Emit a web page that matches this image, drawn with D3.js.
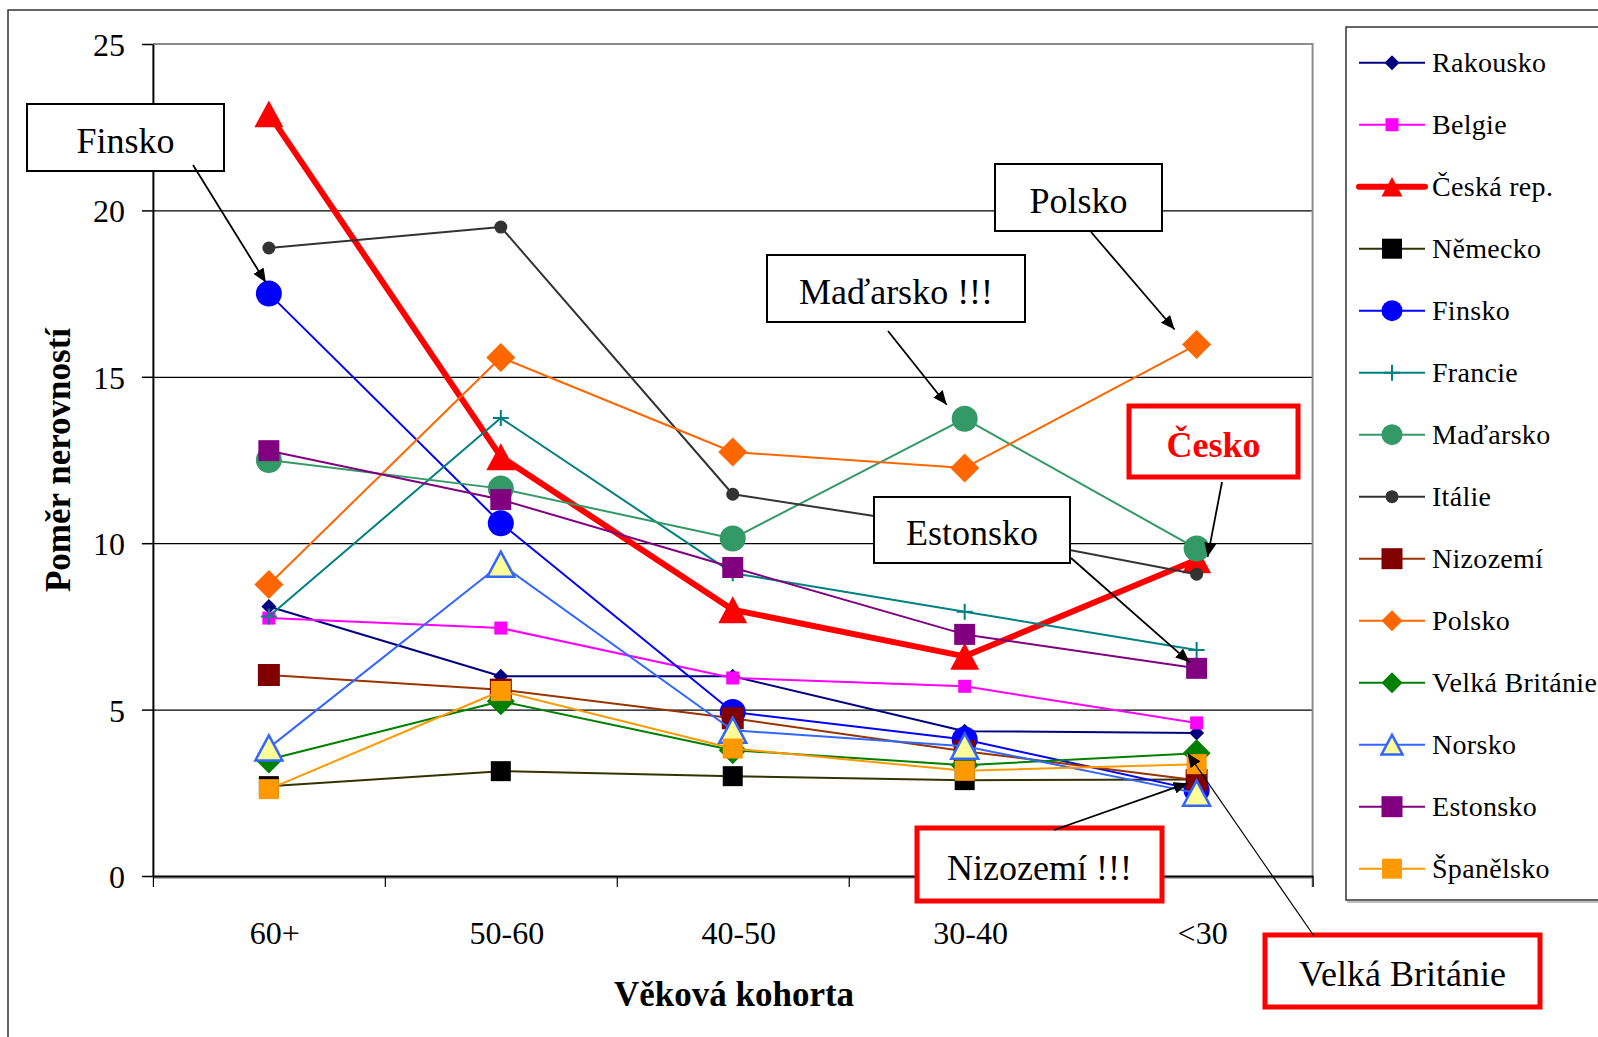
<!DOCTYPE html>
<html><head><meta charset="utf-8">
<script src="https://cdn.jsdelivr.net/npm/d3@7"></script>
<style>
html,body{margin:0;padding:0;background:#fff;}
svg{display:block;}
text{font-family:"Liberation Serif","Times New Roman",serif;}
</style></head>
<body>
<svg id="chart" width="1598" height="1037"></svg>
<script>
// ---------- DATA ----------
const categories = ["60+", "50-60", "40-50", "30-40", "<30"];
const yTicks = [0, 5, 10, 15, 20, 25];
const seriesNames = ["Rakousko","Belgie","Česká rep.","Německo","Finsko","Francie","Maďarsko","Itálie","Nizozemí","Polsko","Velká Británie","Norsko","Estonsko","Španělsko"];
const rakousko      = [8.1, 6.0, 6.0, 4.35, 4.3];
const belgie        = [7.75, 7.45, 5.95, 5.7, 4.6];
const ceskaRep      = [22.9, 12.6, 8.0, 6.6, 9.5];
const nemecko       = [2.7, 3.15, 3.0, 2.88, 2.9];
const finsko        = [17.5, 10.6, 4.93, 4.1, 2.58];
const francie       = [7.8, 13.76, 9.1, 7.94, 6.79];
const madarsko      = [12.5, 11.64, 10.14, 13.74, 9.84];
const italie        = [18.87, 19.5, 11.47, 10.4, 9.07];
const nizozemi      = [6.04, 5.6, 4.74, 3.75, 2.88];
const polsko        = [8.76, 15.58, 12.74, 12.26, 15.97];
const velkaBritanie = [3.5, 5.25, 3.78, 3.33, 3.69];
const norsko        = [3.85, 9.37, 4.38, 3.9, 2.49];
const estonsko      = [12.78, 11.31, 9.27, 7.26, 6.24];
const spanelsko     = [2.61, 5.56, 3.83, 3.16, 3.36];
const seriesValues = [rakousko, belgie, ceskaRep, nemecko, finsko, francie, madarsko, italie, nizozemi, polsko, velkaBritanie, norsko, estonsko, spanelsko];
const xTitle = "Věková kohorta";
const yTitle = "Poměr nerovností";
const annotationTexts = ["Finsko", "Polsko", "Maďarsko !!!", "Česko", "Estonsko", "Nizozemí !!!", "Velká Británie"];

// ---------- STYLES ----------
const styles = [
  {line:"#000080", lw:2, shape:"diamond", size:15, fill:"#000080", stroke:"#000080"},
  {line:"#FF00FF", lw:2, shape:"square", size:13, fill:"#FF00FF", stroke:"#FF00FF"},
  {line:"#FF0000", lw:6, shape:"triangle", size:29, fill:"#FF0000", stroke:"#FF0000"},
  {line:"#333300", lw:2, shape:"square", size:20, fill:"#000000", stroke:"#000000"},
  {line:"#0000FF", lw:2, shape:"circle", size:26, fill:"#0000FF", stroke:"#0000FF"},
  {line:"#008080", lw:2, shape:"plus", size:16, fill:"none", stroke:"#008080"},
  {line:"#339966", lw:2, shape:"circle", size:26, fill:"#339966", stroke:"#339966"},
  {line:"#333333", lw:2, shape:"circle", size:13, fill:"#333333", stroke:"#333333"},
  {line:"#993300", lw:2, shape:"square", size:22, fill:"#800000", stroke:"#800000"},
  {line:"#FF6600", lw:2, shape:"diamond", size:29, fill:"#FF6600", stroke:"#FF6600"},
  {line:"#008000", lw:2, shape:"diamond", size:28, fill:"#008000", stroke:"#008000"},
  {line:"#3366FF", lw:2, shape:"triangle", size:27, fill:"#FFFF99", stroke:"#3366FF", sw:2.5},
  {line:"#800080", lw:2, shape:"square", size:21, fill:"#800080", stroke:"#800080"},
  {line:"#FF9900", lw:2, shape:"square", size:20, fill:"#FF9900", stroke:"#FF9900"}
];

const svg = d3.select("#chart");
const plotL = 152.9, plotR = 1312.6, plotT = 44, plotB = 876;

const x = d3.scaleBand().domain(categories).range([plotL, plotR]);
const xc = c => x(c) + x.bandwidth() / 2;
const y = d3.scaleLinear().domain([0, 25]).range([plotB, plotT]);

// outer chart border
svg.append("path").attr("d", "M8,1040 V10 H1600").attr("fill", "none").attr("stroke", "#333").attr("stroke-width", 1.5);

// gridlines
svg.append("g").attr("transform", `translate(${plotL},0)`)
  .call(d3.axisLeft(y).tickValues([5, 10, 15, 20]).tickSize(-(plotR - plotL)).tickFormat(""))
  .call(g => g.select(".domain").remove())
  .call(g => g.selectAll("line").attr("stroke", "#000").attr("stroke-width", 1.2));

// plot border (top and right, gray)
svg.append("path").attr("d", `M${plotL},${plotT} H${plotR} V${plotB + 11}`)
  .attr("fill", "none").attr("stroke", "#8c8c8c").attr("stroke-width", 2);

// y axis
svg.append("g").attr("transform", `translate(${plotL},0)`)
  .call(d3.axisLeft(y).tickValues(yTicks).tickSize(11).tickSizeOuter(0).tickPadding(17))
  .call(g => g.select(".domain").attr("stroke", "#000").attr("stroke-width", 2))
  .call(g => g.selectAll("line").attr("stroke", "#000").attr("stroke-width", 1.5))
  .call(g => g.selectAll("text").attr("font-size", 32).attr("font-family", "Liberation Serif").attr("fill", "#000").attr("dy", "0.36em"));

// x axis: gray shadow, boundary ticks, labels
svg.append("line").attr("x1", plotL).attr("x2", plotR).attr("y1", plotB + 2).attr("y2", plotB + 2).attr("stroke", "#999").attr("stroke-width", 1.5);
const bnd = d3.scaleLinear().domain([0, categories.length]).range([plotL, plotR]);
svg.append("g").attr("transform", `translate(0,${plotB})`)
  .call(d3.axisBottom(bnd).ticks(categories.length).tickSize(11).tickSizeOuter(0).tickFormat(""))
  .call(g => g.select(".domain").attr("stroke", "#000").attr("stroke-width", 2))
  .call(g => g.selectAll("line").attr("stroke", "#000").attr("stroke-width", 1.2));
svg.append("g").attr("transform", `translate(0,${plotB})`)
  .call(d3.axisBottom(x).tickSize(0).tickPadding(45))
  .call(g => g.select(".domain").remove())
  .call(g => g.selectAll("text").attr("font-size", 32).attr("font-family", "Liberation Serif").attr("fill", "#000").attr("dx", 6));

// axis titles
svg.append("text").attr("x", 734).attr("y", 1006).attr("text-anchor", "middle")
  .attr("font-size", 35).attr("font-weight", "bold").text(xTitle);
svg.append("text").attr("transform", "translate(70,460) rotate(-90)").attr("text-anchor", "middle")
  .attr("font-size", 35).attr("font-weight", "bold").text(yTitle);

// marker drawing
function markerPath(shape, s) {
  const h = s / 2;
  if (shape === "diamond") return `M0,${-h}L${h},0L0,${h}L${-h},0Z`;
  if (shape === "triangle") { const th = s * 0.93 / 2; return `M0,${-th}L${h},${th}L${-h},${th}Z`; }
  if (shape === "plus") return `M${-h},0H${h}M0,${-h}V${h}`;
  return null;
}
function drawMarker(g, st, cx, cy, s) {
  if (st.shape === "circle") {
    g.append("circle").attr("cx", cx).attr("cy", cy).attr("r", s / 2).attr("fill", st.fill);
  } else if (st.shape === "square") {
    g.append("rect").attr("x", cx - s / 2).attr("y", cy - s / 2).attr("width", s).attr("height", s).attr("fill", st.fill);
  } else if (st.shape === "plus") {
    g.append("path").attr("transform", `translate(${cx},${cy})`).attr("d", markerPath("plus", s))
      .attr("fill", "none").attr("stroke", st.stroke).attr("stroke-width", 2);
  } else {
    g.append("path").attr("transform", `translate(${cx},${cy})`).attr("d", markerPath(st.shape, s))
      .attr("fill", st.fill).attr("stroke", st.sw ? st.stroke : "none").attr("stroke-width", st.sw || 0)
      .attr("stroke-linejoin", "miter");
  }
}

// series
const lineGen = d3.line().x((d, i) => xc(categories[i])).y(d => y(d));
const gSeries = svg.append("g");
seriesValues.forEach((vals, si) => {
  const st = styles[si];
  const g = gSeries.append("g");
  g.append("path").attr("d", lineGen(vals)).attr("fill", "none").attr("stroke", st.line)
    .attr("stroke-width", st.lw).attr("stroke-linejoin", "round");
  vals.forEach((v, i) => drawMarker(g, st, xc(categories[i]), y(v), st.size));
});

// legend
const lg = svg.append("g");
lg.append("rect").attr("x", 1346).attr("y", 27).attr("width", 300).attr("height", 873)
  .attr("fill", "#fff").attr("stroke", "#333").attr("stroke-width", 1.5);
lg.append("line").attr("x1", 1347).attr("x2", 1600).attr("y1", 902).attr("y2", 902).attr("stroke", "#aaa").attr("stroke-width", 1.5);
seriesNames.forEach((name, i) => {
  const st = styles[i];
  const ly = 62.7 + i * 62;
  const g = lg.append("g");
  g.append("line").attr("x1", 1359).attr("x2", 1425).attr("y1", ly).attr("y2", ly)
    .attr("stroke", st.line).attr("stroke-width", st.lw === 6 ? 6 : 2).attr("stroke-linecap", st.lw === 6 ? "round" : "butt");
  drawMarker(g, st, 1392, ly, Math.min(st.size, 21));
  g.append("text").attr("x", 1432).attr("y", ly + 9.5).attr("font-size", 28).attr("letter-spacing", 0.3)
    .attr("fill", "#000").text(name);
});

// annotations
const defs = svg.append("defs");
defs.append("marker").attr("id", "arr").attr("viewBox", "0 0 14 12").attr("refX", 14).attr("refY", 6)
  .attr("markerWidth", 14).attr("markerHeight", 12).attr("markerUnits", "userSpaceOnUse").attr("orient", "auto")
  .append("path").attr("d", "M0,0L14,6L0,12Z").attr("fill", "#000");

const ann = [
  {box:[27,104,197,67], red:false, bold:false, from:[193,165], cat:"60+", val:finsko[0], off:[-3,-11], aw:1.8},
  {box:[995,164,167,67], red:false, bold:false, from:[1091,232], cat:"<30", val:polsko[4], off:[-22,-15], aw:1.8},
  {box:[767,255,258,67], red:false, bold:false, from:[888,331], cat:"30-40", val:madarsko[3], off:[-18,-14], aw:1.8},
  {box:[1129,406,169,71], red:true, bold:true, from:[1222,482], cat:"<30", val:ceskaRep[4], off:[11,-3], aw:1.8},
  {box:[874,497,196,66], red:false, bold:false, from:[1071,558], cat:"<30", val:estonsko[4], off:[-7,-6], aw:1.8},
  {box:[917,828,245,73], red:true, bold:false, from:[1054,830], cat:"<30", val:nizozemi[4], off:[-9,3], aw:1.8},
  {box:[1265,935,275,72], red:true, bold:false, from:[1314,936], cat:"<30", val:velkaBritanie[4], off:[-9,0], aw:1.2}
];
const ga = svg.append("g");
ann.forEach((a, i) => {
  const [bx, by, bw, bh] = a.box;
  ga.append("rect").attr("x", bx).attr("y", by).attr("width", bw).attr("height", bh)
    .attr("fill", "#fff").attr("stroke", a.red ? "#FF0000" : "#000").attr("stroke-width", a.red ? 5 : 2);
  ga.append("text").attr("x", bx + bw / 2).attr("y", by + bh / 2 + 15).attr("text-anchor", "middle")
    .attr("font-size", 36).attr("font-weight", a.bold ? "bold" : "normal")
    .attr("fill", a.red && a.bold ? "#FF0000" : "#000").text(annotationTexts[i]);
});
ann.forEach(a => {
  const tx = xc(a.cat) + a.off[0], ty = y(a.val) + a.off[1];
  ga.append("line").attr("x1", a.from[0]).attr("y1", a.from[1]).attr("x2", tx).attr("y2", ty)
    .attr("stroke", "#000").attr("stroke-width", a.aw).attr("marker-end", "url(#arr)");
});
</script>
</body></html>
